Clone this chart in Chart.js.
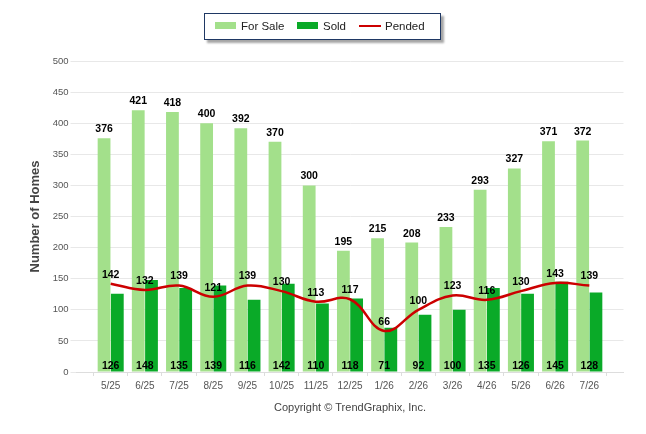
<!DOCTYPE html>
<html lang="en">
<head>
  <meta charset="UTF-8">
  <title>Number of Homes</title>
  <script src="https://cdn.jsdelivr.net/npm/chart.js"></script>
  <style>
    * { box-sizing: border-box; margin: 0; padding: 0; }
    body { width: 646px; height: 434px; background: #fff; overflow: hidden; font-family: 'Liberation Sans', Arial, sans-serif; }
    #wrap { position: relative; width: 646px; height: 434px; }
    #legend {
      position: absolute; left: 204px; top: 13px; width: 237px; height: 27px;
      border: 1.5px solid #1f3864; background: #fff;
      box-shadow: 3px 3px 2px rgba(0, 0, 0, 0.35);
      font-size: 11.5px; color: #222;
    }
    #legend .item { position: absolute; top: 0; height: 24px; line-height: 24px; white-space: nowrap; }
    #legend .sw { position: absolute; top: 8px; width: 21px; height: 7px; }
    #legend .ln { position: absolute; top: 10.5px; width: 22px; height: 2.5px; }
    #legend .tx { position: absolute; left: 26px; }
  </style>
</head>
<body>
  <div id="wrap">
    <canvas id="homesChart" width="646" height="434"></canvas>
    <div id="legend">
      <div class="item" style="left:10px"><span class="sw" style="background:#a3e08b"></span><span class="tx">For Sale</span></div>
      <div class="item" style="left:92px"><span class="sw" style="background:#0aaa28"></span><span class="tx">Sold</span></div>
      <div class="item" style="left:154px"><span class="ln" style="background:#cc0000"></span><span class="tx">Pended</span></div>
    </div>
  </div>

  <script>
    // Chart data
    const months = ['5/25', '6/25', '7/25', '8/25', '9/25', '10/25', '11/25', '12/25', '1/26', '2/26', '3/26', '4/26', '5/26', '6/26', '7/26'];
    const forSale = [376, 421, 418, 400, 392, 370, 300, 195, 215, 208, 233, 293, 327, 371, 372];
    const sold = [126, 148, 135, 139, 116, 142, 110, 118, 71, 92, 100, 135, 126, 145, 128];
    const pended = [142, 132, 139, 121, 139, 130, 113, 117, 66, 100, 123, 116, 130, 143, 139];
    const yTicks = [0, 50, 100, 150, 200, 250, 300, 350, 400, 450, 500];

    // empty slot at each end of the x axis, like the original
    const pad = arr => [null, ...arr, null];
    const labels = ['', ...months, ''];

    const COLORS = { forSale: '#a3e08b', sold: '#0aaa28', pended: '#cc0000' };
    const FONT = "'Liberation Sans', Arial, sans-serif";

    // Value labels + copyright line
    const valueLabels = {
      id: 'valueLabels',
      afterDatasetsDraw(chart) {
        const ctx = chart.ctx;
        const x = chart.scales.x;
        ctx.save();
        ctx.fillStyle = '#000';
        ctx.textAlign = 'center';
        ctx.textBaseline = 'middle';
        ctx.font = 'bold 10.5px ' + FONT;

        chart.getDatasetMeta(0).data.forEach((el, i) => {
          const v = chart.data.datasets[0].data[i];
          if (v == null) return;
          ctx.fillText(v, el.x, el.y - 9);
        });
        chart.getDatasetMeta(1).data.forEach((el, i) => {
          const v = chart.data.datasets[1].data[i];
          if (v == null) return;
          ctx.fillText(v, x.getPixelForValue(i), 366);
        });
        chart.getDatasetMeta(2).data.forEach((el, i) => {
          const v = chart.data.datasets[2].data[i];
          if (v == null) return;
          ctx.fillText(v, el.x, el.y - 9);
        });

        ctx.font = '11px ' + FONT;
        ctx.fillStyle = '#444';
        ctx.fillText('Copyright \u00A9 TrendGraphix, Inc.', 350, 408);
        ctx.restore();
      }
    };

    const ctx = document.getElementById('homesChart').getContext('2d');
    new Chart(ctx, {
      data: {
        labels: labels,
        datasets: [
          {
            type: 'bar', label: 'For Sale', data: pad(forSale),
            backgroundColor: COLORS.forSale, order: 1,
            categoryPercentage: 0.775, barPercentage: 0.965
          },
          {
            type: 'bar', label: 'Sold', data: pad(sold),
            backgroundColor: COLORS.sold, order: 1,
            categoryPercentage: 0.775, barPercentage: 0.965
          },
          {
            type: 'line', label: 'Pended', data: pad(pended),
            borderColor: COLORS.pended, borderWidth: 2.5,
            tension: 0.4, pointRadius: 0, fill: false, order: 0
          }
        ]
      },
      options: {
        responsive: false,
        animation: false,
        events: [],
        layout: { padding: { left: 0, right: 22.5, top: 61, bottom: 0 } },
        plugins: {
          legend: { display: false },
          tooltip: { enabled: false }
        },
        scales: {
          x: {
            offset: false,
            grid: { drawOnChartArea: false, drawTicks: true, tickLength: 4, color: '#dddddd' },
            border: { display: true, color: '#dddddd' },
            ticks: {
              autoSkip: false, maxRotation: 0, padding: 4,
              color: '#555', font: { family: FONT, size: 10 }
            },
            afterFit: s => { s.height = 62; }
          },
          y: {
            min: 0, max: 500,
            afterBuildTicks: s => { s.ticks = yTicks.map(v => ({ value: v })); },
            grid: { color: '#e8e8e8', tickLength: 6 },
            border: { display: false },
            ticks: { padding: 2, color: '#555', font: { family: FONT, size: 9.5 } },
            title: {
              display: true, text: 'Number of Homes', color: '#444',
              font: { family: FONT, size: 13, weight: 'bold' },
              padding: { top: 28, bottom: 0 }
            },
            afterFit: s => { s.width = 76.5; }
          }
        }
      },
      plugins: [valueLabels]
    });
  </script>
</body>
</html>
